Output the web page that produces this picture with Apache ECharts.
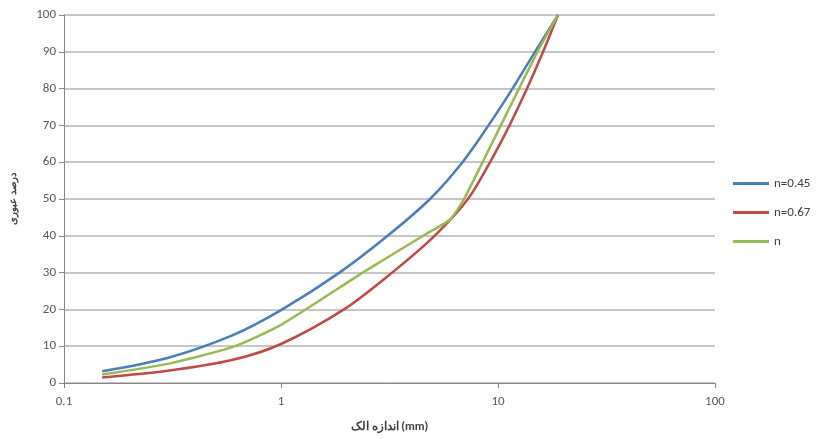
<!DOCTYPE html>
<html>
<head>
<meta charset="utf-8">
<script src="https://cdn.jsdelivr.net/npm/echarts@6/dist/echarts.min.js"></script>
<style>
html,body{margin:0;padding:0;background:#fff;}
#c{width:820px;height:439px;}
</style>
</head>
<body>
<div id="c"></div>
<script>
// Sieve size (mm) / percent passing
const sizes045 = [0.15, 0.3, 0.6, 1.0, 1.86, 3.1, 4.86, 6.86, 9.04, 11.66, 14.81, 18.9];
const pass045  = [3.2, 6.8, 13, 19.8, 30, 40, 50, 60, 70, 80, 90, 100];
const sizes067 = [0.15, 0.3, 0.6, 1.0, 1.95, 3.25, 5.1, 7.27, 9.19, 11.3, 13.6, 16.13, 18.9];
const pass067  = [1.5, 3.3, 6.3, 10.6, 20, 30, 40, 50, 60, 70, 80, 90, 100];
const sizesN   = [0.15, 0.3, 0.6, 1.0, 2.38, 4.66, 5.97, 6.97, 8.49, 10.3, 12.5, 15.2, 18.9];
const passN    = [2.3, 5.2, 9.8, 15.8, 30, 40.5, 44.3, 50, 60, 70, 80, 90, 100];
const xTicks = [0.1, 1, 10, 100];
const legendNames = ['n=0.45', 'n=0.67', 'n'];

const zip = (xs, ys) => xs.map((x, i) => [x, ys[i]]);
const chart = echarts.init(document.getElementById('c'));
const font = 'Calibri, "Liberation Sans", "Noto Sans", sans-serif';
chart.setOption({
  animation: false,
  backgroundColor: '#fff',
  grid: {left: 63, right: 105, top: 15, bottom: 56},
  legend: {
    orient: 'vertical', left: 728, top: 172, itemGap: 16,
    itemWidth: 36, itemHeight: 3,
    icon: 'rect',
    textStyle: {fontFamily: font, fontSize: 13, color: '#404040'},
    data: legendNames
  },
  xAxis: {
    type: 'log', logBase: 10, min: 0.1, max: 100,
    name: 'اندازه الک (mm)', nameLocation: 'middle', nameGap: 38,
    nameTextStyle: {fontFamily: font, fontSize: 12, fontWeight: 'bold', color: '#404040'},
    axisLine: {show: true, lineStyle: {color: '#868686', width: 1}},
    axisTick: {show: true, length: 5, lineStyle: {color: '#868686'}},
    splitLine: {show: false},
    minorTick: {show: false},
    axisLabel: {fontFamily: font, fontSize: 13, color: '#595959', margin: 12,
      formatter: v => { const t = xTicks.find(k => Math.abs(k - v) / k < 1e-6); return t === undefined ? '' : String(t); }}
  },
  yAxis: {
    type: 'value', min: 0, max: 100, interval: 10,
    name: 'درصد عبوری', nameLocation: 'middle', nameGap: 46, nameRotate: 90,
    nameTextStyle: {fontFamily: font, fontSize: 10, fontWeight: 'bold', color: '#404040'},
    axisLine: {show: true, lineStyle: {color: '#868686', width: 1}},
    axisTick: {show: true, length: 5, lineStyle: {color: '#868686'}},
    splitLine: {show: true, lineStyle: {color: '#b3b3b3', width: 1.5}},
    axisLabel: {fontFamily: font, fontSize: 13, color: '#595959', margin: 8}
  },
  series: [
    {name: legendNames[0], type: 'line', data: zip(sizes045, pass045), smooth: 0.3,
     showSymbol: false, lineStyle: {color: '#4a7ebb', width: 2.5}, itemStyle: {color: '#4a7ebb'}},
    {name: legendNames[1], type: 'line', data: zip(sizes067, pass067), smooth: 0.3,
     showSymbol: false, lineStyle: {color: '#be4b48', width: 2.5}, itemStyle: {color: '#be4b48'}},
    {name: legendNames[2], type: 'line', data: zip(sizesN, passN), smooth: 0.2,
     showSymbol: false, lineStyle: {color: '#98b954', width: 2.5}, itemStyle: {color: '#98b954'}}
  ]
});
</script>
</body>
</html>
